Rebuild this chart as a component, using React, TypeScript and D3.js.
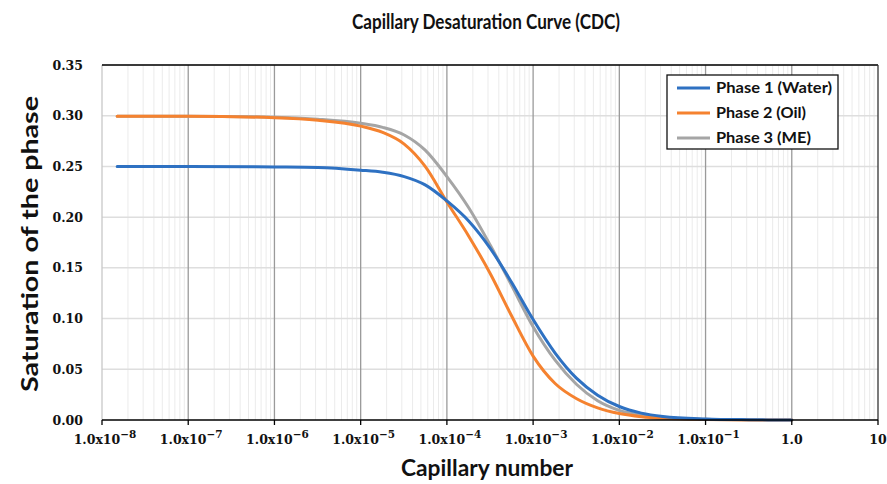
import React, { useRef, useEffect } from 'react';
import * as d3 from 'd3';

// capillary number samples (x) and saturations
const capillaryNumbers = [1.5e-8, 1e-7, 1e-6, 3.2e-6, 1e-5, 1.8e-5, 3.2e-5, 5.6e-5, 1e-4, 1.8e-4, 3.2e-4, 5.6e-4,
    1e-3, 1.8e-3, 3.2e-3, 5.6e-3, 1e-2, 1.8e-2, 3.2e-2, 1e-1, 0.32, 1];
const water = [0.25, 0.25, 0.2495, 0.249, 0.2463, 0.2442, 0.24, 0.2318, 0.216, 0.196, 0.169, 0.136,
    0.099, 0.066, 0.041, 0.0245, 0.0133, 0.0068, 0.0035, 0.0011, 0.0003, 0];
const oil = [0.2995, 0.2995, 0.298, 0.2955, 0.2897, 0.2835, 0.272, 0.25, 0.215, 0.181, 0.144, 0.103,
    0.063, 0.036, 0.021, 0.012, 0.0064, 0.0033, 0.0017, 0.0005, 0.0001, 0];
const me = [0.2995, 0.2995, 0.2985, 0.2965, 0.2925, 0.2885, 0.281, 0.266, 0.24, 0.209, 0.172, 0.133,
    0.092, 0.059, 0.035, 0.019, 0.0095, 0.0047, 0.0023, 0.0007, 0.0002, 0];

const seriesNames = ['Phase 1 (Water)', 'Phase 2 (Oil)', 'Phase 3 (ME)'];
const legendWidths = [116, 90, 95];
const seriesColors = ['#2e71c2', '#f5822f', '#a5a5a5'];
const xTickExponents = [-8, -7, -6, -5, -4, -3, -2, -1];
const yTicks = [0, 0.05, 0.1, 0.15, 0.2, 0.25, 0.3, 0.35];

const App = () => {
    const svgRef = useRef<SVGSVGElement>(null);

    useEffect(() => {
        const width = 887;
        const height = 484;
        const left = 102, right = 878, top = 65, bottom = 420;

        const svg = d3.select(svgRef.current);
        svg.selectAll('*').remove();
        svg.attr('width', width).attr('height', height);

        const x = d3.scaleLog().domain([1e-8, 10]).range([left, right]);
        const y = d3.scaleLinear().domain([0, 0.35]).range([bottom, top]);

        svg.append('rect').attr('width', width).attr('height', height).attr('fill', '#fff');

        // minor vertical grid
        const minor: number[] = [];
        for (let e = -8; e < 1; e++) {
            for (let m = 2; m <= 9; m++) minor.push(m * Math.pow(10, e));
        }
        svg.append('g').selectAll('line').data(minor).enter().append('line')
            .attr('x1', d => x(d)).attr('x2', d => x(d))
            .attr('y1', top).attr('y2', bottom)
            .attr('stroke', '#ebebeb').attr('stroke-width', 1);

        // horizontal grid
        svg.append('g').selectAll('line').data(yTicks.slice(1)).enter().append('line')
            .attr('x1', left).attr('x2', right)
            .attr('y1', d => y(d)).attr('y2', d => y(d))
            .attr('stroke', '#dedede').attr('stroke-width', 1.5);

        // major vertical grid
        const majors = d3.range(-7, 1).map(e => Math.pow(10, e));
        svg.append('g').selectAll('line').data(majors).enter().append('line')
            .attr('x1', d => x(d)).attr('x2', d => x(d))
            .attr('y1', top).attr('y2', bottom)
            .attr('stroke', '#9a9a9a').attr('stroke-width', 1.3);

        // frame
        svg.append('line').attr('x1', left).attr('x2', left).attr('y1', top).attr('y2', bottom)
            .attr('stroke', '#c8c8c8').attr('stroke-width', 1.3);
        svg.append('line').attr('x1', left).attr('x2', right).attr('y1', top).attr('y2', top)
            .attr('stroke', '#000').attr('stroke-width', 1.5);
        svg.append('line').attr('x1', right).attr('x2', right).attr('y1', top).attr('y2', bottom)
            .attr('stroke', '#333').attr('stroke-width', 1.3);

        // curves
        const line = d3.line<[number, number]>()
            .x(d => x(d[0]))
            .y(d => y(d[1]))
            .curve(d3.curveMonotoneX);
        const series = [water, oil, me];
        [2, 1, 0].forEach(i => {
            const pts = capillaryNumbers.map((c, j) => [c, series[i][j]] as [number, number]);
            svg.append('path')
                .attr('d', line(pts))
                .attr('fill', 'none')
                .attr('stroke', seriesColors[i])
                .attr('stroke-width', 3)
                .attr('stroke-linecap', 'round');
        });

        // x axis
        svg.append('line').attr('x1', left).attr('x2', right).attr('y1', bottom).attr('y2', bottom)
            .attr('stroke', '#000').attr('stroke-width', 1.5);
        const xTickVals = [...xTickExponents.map(e => Math.pow(10, e)), 1, 10];
        svg.append('g').selectAll('line').data(xTickVals).enter().append('line')
            .attr('x1', d => x(d)).attr('x2', d => x(d))
            .attr('y1', bottom).attr('y2', bottom + 5)
            .attr('stroke', '#000').attr('stroke-width', 1.3);

        const tickFont = '"DejaVu Serif", serif';
        const xl = svg.append('g').attr('font-family', tickFont).attr('font-weight', 'bold')
            .attr('font-size', 12.5).attr('fill', '#111');
        xTickExponents.forEach(e => {
            const t = xl.append('text').attr('x', x(Math.pow(10, e)) + 3).attr('y', 444)
                .attr('text-anchor', 'middle');
            t.append('tspan').text('1.0x10');
            t.append('tspan').attr('dy', -6).attr('font-size', 10.5).text(`\u2212${-e}`);
        });
        xl.append('text').attr('x', x(1)).attr('y', 444).attr('text-anchor', 'middle').text('1.0');
        xl.append('text').attr('x', x(10)).attr('y', 444).attr('text-anchor', 'middle').text('10');

        // y axis labels
        svg.append('g').attr('font-family', tickFont).attr('font-weight', 'bold')
            .attr('font-size', 12.5).attr('fill', '#111')
            .selectAll('text').data(yTicks).enter().append('text')
            .attr('x', 83).attr('y', d => y(d) + 4.5)
            .attr('text-anchor', 'end')
            .text(d => d3.format('.2f')(d));

        const labelFont = 'Lato, "Open Sans", sans-serif';
        // title
        svg.append('text').attr('x', 486).attr('y', 29).attr('text-anchor', 'middle')
            .attr('font-family', labelFont).attr('font-weight', 'bold').attr('font-size', 20)
            .attr('fill', '#111').attr('textLength', 268).attr('lengthAdjust', 'spacingAndGlyphs')
            .text('Capillary Desaturation Curve (CDC)');
        svg.append('text').attr('x', 487).attr('y', 476).attr('text-anchor', 'middle')
            .attr('font-family', labelFont).attr('font-weight', 'bold').attr('font-size', 22)
            .attr('fill', '#111').attr('textLength', 172).attr('lengthAdjust', 'spacingAndGlyphs')
            .text('Capillary number');
        svg.append('text')
            .attr('transform', 'translate(38,244) rotate(-90)')
            .attr('text-anchor', 'middle')
            .attr('font-family', labelFont).attr('font-weight', 'bold').attr('font-size', 22)
            .attr('fill', '#111').attr('textLength', 296).attr('lengthAdjust', 'spacingAndGlyphs')
            .text('Saturation of the phase');

        // legend
        const lg = svg.append('g').attr('transform', 'translate(667,75)');
        lg.append('rect').attr('width', 171).attr('height', 74)
            .attr('fill', '#fff').attr('stroke', '#111').attr('stroke-width', 1.3);
        seriesNames.forEach((name, i) => {
            const cy = 13 + i * 25;
            lg.append('line').attr('x1', 10).attr('x2', 43).attr('y1', cy).attr('y2', cy)
                .attr('stroke', seriesColors[i]).attr('stroke-width', 3);
            lg.append('text').attr('x', 49).attr('y', cy + 5)
                .attr('font-family', labelFont).attr('font-weight', 'bold').attr('font-size', 15)
                .attr('fill', '#111').attr('textLength', legendWidths[i]).attr('lengthAdjust', 'spacingAndGlyphs')
                .text(name);
        });
    }, []);

    return <svg ref={svgRef} style={{ display: 'block', position: 'absolute', left: 0, top: 0 }}></svg>;
};

export default App;
